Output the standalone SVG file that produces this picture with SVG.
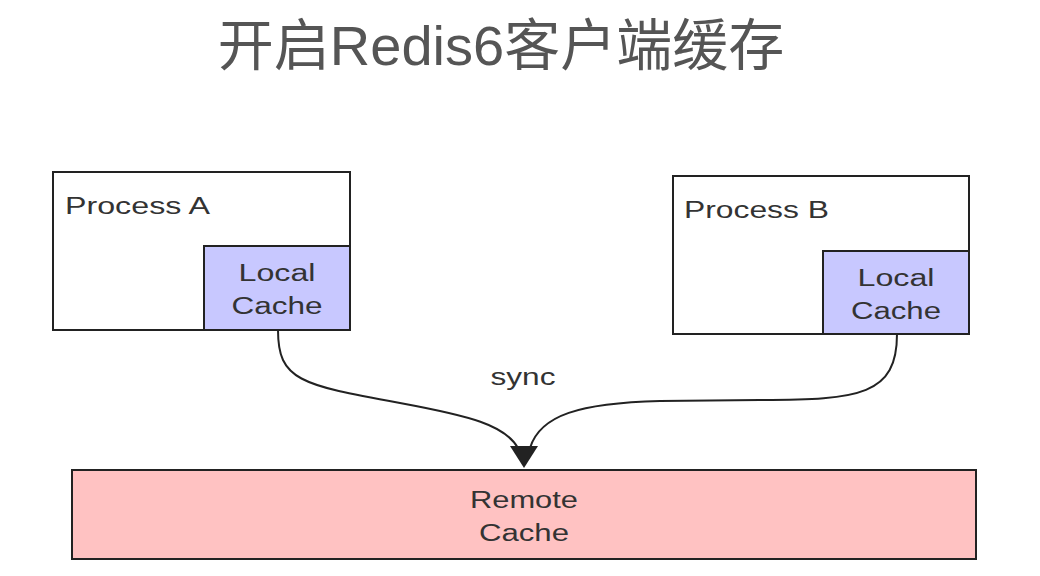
<svg xmlns="http://www.w3.org/2000/svg" width="1040" height="576" viewBox="0 0 1040 576">
<style>
.box{fill:#ffffff;stroke:#222;stroke-width:2}
.local{fill:#c8c8ff;stroke:#222;stroke-width:2}
.remote{fill:#ffc2c2;stroke:#222;stroke-width:2}
.lbl{font-family:"Liberation Sans",Arial,sans-serif;font-size:23px;fill:#333}
.c{text-anchor:middle}
.edge{fill:none;stroke:#222;stroke-width:2}
</style>
<rect width="1040" height="576" fill="#ffffff"/>
<text x="501" y="65" text-anchor="middle" font-family="'Liberation Sans','Noto Sans CJK SC',sans-serif" font-size="56" fill="#555">开启Redis6客户端缓存</text>
<g id="processA">
<rect class="box" x="53" y="172" width="297" height="158"/>
<text class="lbl" x="65" y="214" textLength="145" lengthAdjust="spacingAndGlyphs">Process A</text>
</g>
<g id="localCacheA">
<rect class="local" x="204" y="246" width="146" height="84"/>
<text class="lbl c" x="277" y="281" textLength="77" lengthAdjust="spacingAndGlyphs">Local</text>
<text class="lbl c" x="277" y="314" textLength="91" lengthAdjust="spacingAndGlyphs">Cache</text>
</g>
<g id="processB">
<rect class="box" x="673" y="176" width="296" height="158"/>
<text class="lbl" x="684" y="218" textLength="145" lengthAdjust="spacingAndGlyphs">Process B</text>
</g>
<g id="localCacheB">
<rect class="local" x="823" y="251" width="146" height="83"/>
<text class="lbl c" x="896" y="286" textLength="77" lengthAdjust="spacingAndGlyphs">Local</text>
<text class="lbl c" x="896" y="319" textLength="90" lengthAdjust="spacingAndGlyphs">Cache</text>
</g>
<g id="remoteCache">
<rect class="remote" x="72" y="470" width="904" height="89"/>
<text class="lbl c" x="524" y="508" textLength="108" lengthAdjust="spacingAndGlyphs">Remote</text>
<text class="lbl c" x="524" y="541" textLength="90" lengthAdjust="spacingAndGlyphs">Cache</text>
</g>
<g id="connectors">
<path class="edge" d="M278,330 C278,380 300,385 400,403 C470,416 505,425 518,448"/>
<path class="edge" d="M897,334 C897,395 860,400 760,400 L660,401 C580,403 540,415 530,448"/>
<polygon points="510,446 538,446 524,468" fill="#222"/>
<text class="lbl c" x="523" y="385" font-size="21" textLength="65" lengthAdjust="spacingAndGlyphs">sync</text>
</g>
</svg>
